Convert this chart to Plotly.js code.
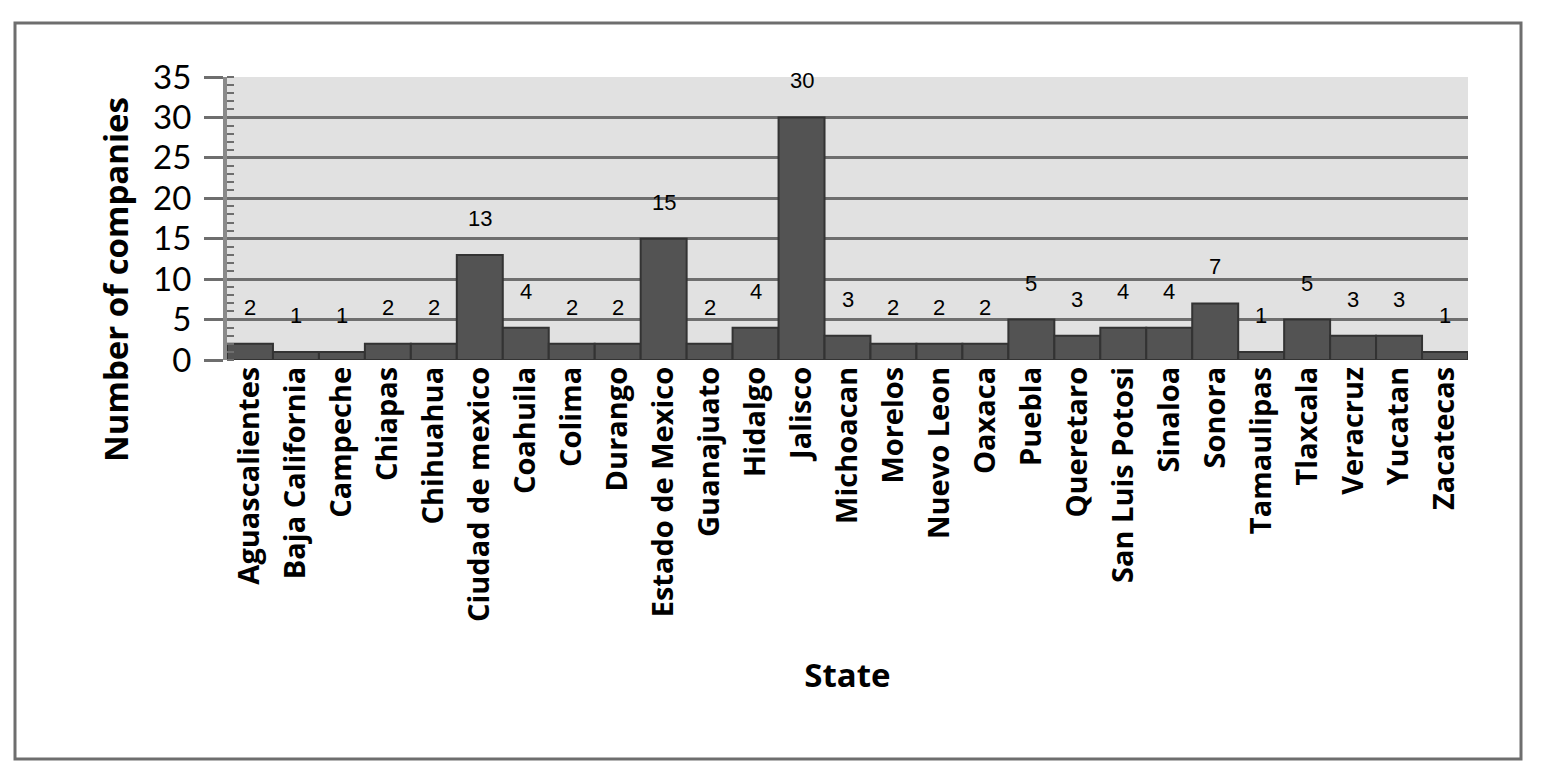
<!DOCTYPE html>
<html>
<head>
<meta charset="utf-8">
<script src="https://cdn.plot.ly/plotly-3.0.1.min.js"></script>
<style>
  html, body { margin: 0; padding: 0; background: #fff; }
  #chart { width: 1541px; height: 775px; }
</style>
</head>
<body>
<div id="chart"></div>
<script>
// companies per state
var states = ['Aguascalientes', 'Baja California', 'Campeche', 'Chiapas', 'Chihuahua',
  'Ciudad de mexico', 'Coahuila', 'Colima', 'Durango', 'Estado de Mexico', 'Guanajuato',
  'Hidalgo', 'Jalisco', 'Michoacan', 'Morelos', 'Nuevo Leon', 'Oaxaca', 'Puebla',
  'Queretaro', 'San Luis Potosi', 'Sinaloa', 'Sonora', 'Tamaulipas', 'Tlaxcala',
  'Veracruz', 'Yucatan', 'Zacatecas'];
var companies = [2, 1, 1, 2, 2, 13, 4, 2, 2, 15, 2, 4, 30, 3, 2, 2, 2, 5, 3, 4, 4, 7, 1, 5, 3, 3, 1];
var yTicks = [0, 5, 10, 15, 20, 25, 30, 35];

var FONT = 'Open Sans, sans-serif';

var labels = states.map(function (s, i) {
  return {
    x: s, y: companies[i], xref: 'x', yref: 'y',
    text: String(companies[i]), showarrow: false,
    yanchor: 'bottom', yshift: 22,
    font: { family: 'Liberation Sans, Arial, sans-serif', size: 22, color: '#000' }
  };
});

// y title sits a bit below the plot centre in the original
labels.push({
  xref: 'paper', yref: 'paper',
  x: (115 - 227) / 1241, y: (360 - 280) / 283,
  xanchor: 'center', yanchor: 'middle', textangle: -90, showarrow: false,
  text: 'Number of companies',
  font: { family: FONT, size: 33, weight: 'bold', color: '#000' }
});

Plotly.newPlot('chart', [{
  type: 'bar',
  x: states,
  y: companies,
  marker: { color: '#535353', line: { color: '#333333', width: 2 } },
  hoverinfo: 'x+y'
}], {
  width: 1541, height: 775,
  margin: { l: 227, r: 73, t: 77, b: 415 },
  paper_bgcolor: '#ffffff',
  plot_bgcolor: '#e1e1e1',
  bargap: 0,
  showlegend: false,
  font: { family: FONT, color: '#000' },
  xaxis: {
    type: 'category',
    tickangle: -90,
    tickfont: { family: FONT, size: 29, weight: 'bold', color: '#000' },
    ticks: '',
    showgrid: false,
    showline: false,
    zeroline: false,
    title: { text: 'State', font: { family: FONT, size: 33, weight: 'bold' }, standoff: 42 }
  },
  yaxis: {
    range: [0, 35],
    tickvals: yTicks,
    tickfont: { family: 'Lato, sans-serif', size: 33, color: '#000' },
    ticks: 'outside', ticklen: 19, tickwidth: 3, tickcolor: '#6e6e6e',
    ticklabelstandoff: 6,
    minor: { ticks: 'inside', dtick: 1, ticklen: 7, tickwidth: 2, tickcolor: '#6e6e6e' },
    showline: true, linecolor: '#8a8a8a', linewidth: 4,
    gridcolor: '#6e6e6e', gridwidth: 3,
    zeroline: false
  },
  annotations: labels,
  shapes: [{
    type: 'rect', xref: 'paper', yref: 'paper',
    x0: (15 - 227) / 1241, x1: (1521 - 227) / 1241,
    y0: (360 - 759) / 283, y1: (360 - 23) / 283,
    line: { color: '#6e6e6e', width: 3 }, fillcolor: 'rgba(0,0,0,0)', layer: 'below'
  }]
}, { displayModeBar: false, staticPlot: true });
</script>
</body>
</html>
